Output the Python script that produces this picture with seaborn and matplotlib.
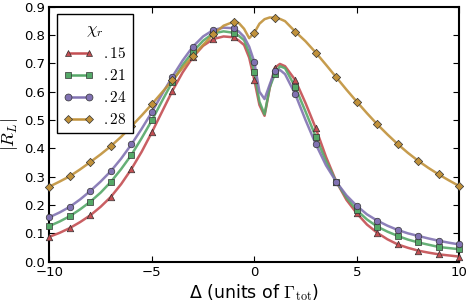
import numpy as np
import pandas as pd
import seaborn as sns
import matplotlib
matplotlib.use("Agg")
import matplotlib.pyplot as plt
from matplotlib.lines import Line2D

# detuning grid for the curves (finer around the dip)
x_line = [-10, -9.5, -9, -8.5, -8, -7.5, -7, -6.5, -6, -5.5, -5, -4.5, -4, -3.5,
          -3, -2.5, -2, -1.5, -1, -0.75, -0.5, -0.25, 0, 0.25, 0.5, 0.75, 1,
          1.25, 1.5, 2, 2.5, 3, 3.5, 4, 4.5, 5, 5.5, 6, 6.5, 7, 7.5, 8, 8.5,
          9, 9.5, 10]

r15 = [0.088, 0.102, 0.119, 0.140, 0.164, 0.194, 0.229, 0.274, 0.327, 0.388,
       0.457, 0.530, 0.603, 0.668, 0.722, 0.762, 0.786, 0.795, 0.792, 0.780,
       0.765, 0.72, 0.641, 0.553, 0.515, 0.612, 0.685, 0.698, 0.690, 0.641,
       0.56, 0.471, 0.37, 0.283, 0.218, 0.171, 0.131, 0.102, 0.079, 0.061,
       0.049, 0.039, 0.032, 0.026, 0.022, 0.018]
r21 = [0.126, 0.142, 0.161, 0.185, 0.212, 0.244, 0.282, 0.327, 0.377, 0.436,
       0.499, 0.568, 0.635, 0.694, 0.741, 0.780, 0.806, 0.813, 0.808, 0.797,
       0.782, 0.736, 0.671, 0.565, 0.520, 0.615, 0.662, 0.690, 0.683, 0.616,
       0.53, 0.441, 0.355, 0.282, 0.226, 0.182, 0.149, 0.124, 0.106, 0.091,
       0.078, 0.068, 0.060, 0.052, 0.048, 0.044]
r24 = [0.157, 0.174, 0.194, 0.220, 0.250, 0.283, 0.320, 0.364, 0.414, 0.469,
       0.528, 0.592, 0.653, 0.710, 0.759, 0.795, 0.818, 0.826, 0.824, 0.812,
       0.794, 0.759, 0.705, 0.600, 0.574, 0.625, 0.673, 0.677, 0.662, 0.591,
       0.50, 0.415, 0.34, 0.282, 0.234, 0.197, 0.167, 0.145, 0.127, 0.112,
       0.100, 0.091, 0.082, 0.074, 0.067, 0.061]
r28 = [0.265, 0.283, 0.302, 0.326, 0.352, 0.379, 0.408, 0.441, 0.478, 0.516,
       0.556, 0.598, 0.640, 0.684, 0.726, 0.765, 0.803, 0.833, 0.847, 0.842,
       0.822, 0.789, 0.808, 0.840, 0.856, 0.862, 0.861, 0.857, 0.849, 0.812,
       0.778, 0.738, 0.695, 0.651, 0.607, 0.565, 0.524, 0.485, 0.449, 0.415,
       0.384, 0.356, 0.331, 0.308, 0.287, 0.267]

labels = [".15", ".21", ".24", ".28"]
series = [r15, r21, r24, r28]
colors = ["#C44E52", "#55A868", "#8172B2", "#C0913A"]
markers = ["^", "s", "o", "D"]

plt.rcParams["mathtext.fontset"] = "cm"
plt.rcParams["font.family"] = "DejaVu Sans"

fig = plt.figure(figsize=(4.69, 3.05), dpi=100)
ax = fig.add_axes([0.1055, 0.142, 0.8735, 0.836])

handles = []
for lab, vals, c, m in zip(labels, series, colors, markers):
    df = pd.DataFrame({"x": x_line, "y": vals})
    sns.lineplot(data=df, x="x", y="y", color=c, lw=1.8, alpha=0.9, ax=ax)
    pts = df[df.x == df.x.round()]
    sns.scatterplot(data=pts, x="x", y="y", color=c, marker=m,
                    s=22 if m != "D" else 18,
                    edgecolor="#333333", linewidth=0.5, ax=ax, zorder=3,
                    clip_on=False)
    handles.append(Line2D([], [], color=c, lw=1.8, marker=m,
                          markersize=5 if m != "D" else 4.5,
                          markeredgecolor="#333333", markeredgewidth=0.5))

ax.set_xlim(-10, 10)
ax.set_ylim(0, 0.9)
ax.set_xticks([-10, -5, 0, 5, 10])
ax.set_yticks(np.arange(0, 0.91, 0.1))
ax.set_yticklabels([f"{v:.1f}" for v in np.arange(0, 0.91, 0.1)])
ax.tick_params(direction="in", top=True, right=True, length=4, width=0.8,
               labelsize=9.5, pad=3)
for s in ax.spines.values():
    s.set_linewidth(1.5)
ax.set_xlabel(r"Δ (units of $\Gamma_{\rm tot}$)", fontsize=12.5, labelpad=2)
ax.set_ylabel(r"$|R_L|$", fontsize=13)
ax.yaxis.set_label_coords(-0.072, 0.5)

leg = ax.legend(handles, [f"${l}$" for l in labels], title=r"$\chi_r$",
                loc="upper left", numpoints=2, fontsize=11,
                title_fontsize=12, fancybox=False, framealpha=1,
                edgecolor="black", handlelength=2.0, handletextpad=0.6,
                borderaxespad=0.5, labelspacing=0.45)
leg.get_frame().set_linewidth(1.0)

fig.savefig("out.png", dpi=100)
